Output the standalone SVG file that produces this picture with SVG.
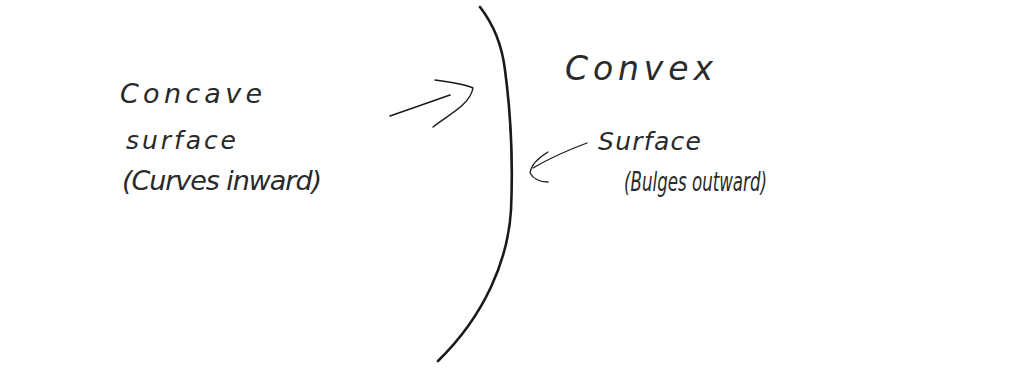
<svg xmlns="http://www.w3.org/2000/svg" width="1016" height="377" viewBox="0 0 1016 377">
<style>
.t{font-family:"DejaVu Sans","Liberation Sans",sans-serif;font-weight:200;font-style:italic;fill:#2a2a2a}
.pen{fill:none;stroke:#1a1a1a;stroke-linecap:round;stroke-linejoin:round}
</style>
<rect width="1016" height="377" fill="#ffffff"/>
<g id="surface-curve">
<path class="pen" stroke-width="2.6" d="M480,7 C494,25 502,45 505,70 C511,115 513,165 511,210 C508,260 485,315 438,361"/>
</g>
<g id="concave-label">
<text class="t" x="120" y="103" font-size="27" textLength="142" lengthAdjust="spacing">Concave</text>
<text class="t" x="126" y="149" font-size="25" textLength="110" lengthAdjust="spacing">surface</text>
<text class="t" x="122" y="190" font-size="27" textLength="200" lengthAdjust="spacing">(Curves inward)</text>
</g>
<g id="convex-label">
<text class="t" x="565" y="80" font-size="33" textLength="148" lengthAdjust="spacing">Convex</text>
<text class="t" x="598" y="150" font-size="25" textLength="103" lengthAdjust="spacing">Surface</text>
<text class="t" x="624" y="191" font-size="26" textLength="143" lengthAdjust="spacingAndGlyphs">(Bulges outward)</text>
</g>
<g id="connectors">
<path class="pen" stroke-width="1.6" d="M390,116 L450,95"/>
<path class="pen" stroke-width="1.4" d="M435,80 C450,82 465,84 473,88 C470,105 448,115 433,127"/>
<path class="pen" stroke-width="1.3" d="M587,143 C568,150 550,158 533,168"/>
<path class="pen" stroke-width="1.3" d="M548,152 C538,158 531,165 530,173 C534,180 541,182 548,182"/>
</g>
</svg>
